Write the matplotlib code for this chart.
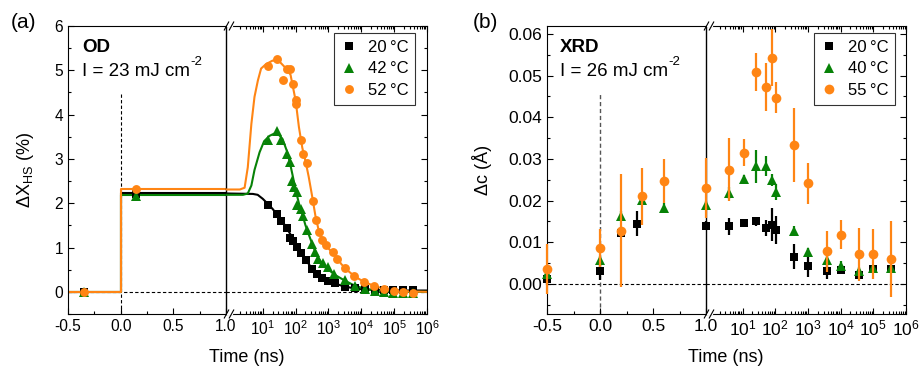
import matplotlib
matplotlib.use("Agg")
import numpy as np
import matplotlib.pyplot as plt
from matplotlib.lines import Line2D
from matplotlib.ticker import (MultipleLocator, FixedLocator, NullFormatter,
                               FormatStrFormatter, LogFormatterSciNotation)

plt.rcParams["font.family"] = ["Liberation Sans", "DejaVu Sans"]
plt.rcParams["mathtext.fontset"] = "custom"
plt.rcParams["mathtext.rm"] = "Liberation Sans"
plt.rcParams["mathtext.it"] = "Liberation Sans:italic"
plt.rcParams["mathtext.bf"] = "Liberation Sans:bold"
plt.rcParams["axes.unicode_minus"] = False

BLACK, GREEN, ORANGE = "black", "#078207", "#ff8514"

# ---------------- (a) optical density ----------------
od_labels = ["20\u2009\u00b0C", "42\u2009\u00b0C", "52\u2009\u00b0C"]

# early-time points (linear axis, ns)
od_t_lin = [-0.35, 0.15]
od_20_lin = [0.0, 2.20]
od_42_lin = [0.0, 2.17]
od_52_lin = [0.0, 2.32]

# late-time points (log axis, ns)
od_20_t = [14.9, 27, 37, 53, 66, 84, 112, 145, 205, 305, 434, 616, 980, 1550,
           3180, 6300, 1.3e4, 2.6e4, 4.9e4, 9.3e4, 1.9e5, 3.8e5]
od_20_v = [1.97, 1.76, 1.61, 1.45, 1.21, 1.15, 1.02, 0.87, 0.72, 0.51, 0.40,
           0.32, 0.25, 0.20, 0.12, 0.08, 0.06, 0.05, 0.04, 0.04, 0.04, 0.04]

od_42_t = [14.9, 28, 37, 53, 66, 75, 88, 107, 112, 146, 170, 224, 305, 385,
           486, 690, 980, 1450, 3180, 6300, 1.3e4, 2.6e4, 4.9e4, 9.3e4, 1.9e5, 3.8e5]
od_42_v = [3.42, 3.64, 3.42, 3.11, 2.93, 2.51, 2.36, 2.25, 1.95, 1.87, 1.72,
           1.40, 1.09, 0.89, 0.74, 0.64, 0.55, 0.40, 0.26, 0.14, 0.06, 0.01,
           -0.01, -0.03, -0.03, -0.03]

od_52_t = [14.6, 28, 40, 53, 69, 84, 100, 106, 145, 170, 224, 329, 417, 500,
           616, 830, 1330, 1770, 3180, 5930, 1.2e4, 2.4e4, 4.9e4, 9.8e4, 1.9e5, 3.8e5]
od_52_v = [5.10, 5.25, 4.78, 5.02, 5.03, 4.68, 4.23, 4.34, 3.43, 3.11, 2.91,
           2.06, 1.63, 1.36, 1.18, 1.06, 0.90, 0.74, 0.53, 0.36, 0.23, 0.14,
           0.06, 0.01, -0.01, -0.03]

# fitted model curves
fit_t_lin = [-0.5, 0.0, 0.0, 1.0]
fit_20_lin = [0.0, 0.0, 2.22, 2.22]
fit_42_lin = [0.0, 0.0, 2.19, 2.19]
fit_52_lin = [0.0, 0.0, 2.31, 2.31]

fit_20_t = [0.76, 5, 7, 10, 15, 20, 32, 50, 80, 126, 200, 320, 500, 800, 1260,
            2500, 5000, 1e4, 3e4, 1e5, 1e6]
fit_20_v = [2.22, 2.21, 2.19, 2.10, 1.97, 1.87, 1.68, 1.48, 1.22, 0.97, 0.73,
            0.52, 0.37, 0.28, 0.21, 0.14, 0.09, 0.06, 0.04, 0.03, 0.03]

fit_42_t = [0.76, 2.5, 3.5, 4.5, 5.6, 8, 11, 16, 22, 28, 40, 56, 70, 80, 100,
            126, 160, 200, 250, 320, 400, 500, 700, 1000, 1600, 3200, 6300,
            1.26e4, 2.5e4, 6e4, 3e5, 1e6]
fit_42_v = [2.19, 2.19, 2.22, 2.40, 2.75, 3.15, 3.40, 3.52, 3.57, 3.58, 3.45,
            3.15, 2.85, 2.65, 2.30, 2.00, 1.75, 1.50, 1.30, 1.08, 0.90, 0.75,
            0.60, 0.50, 0.38, 0.25, 0.14, 0.07, 0.03, 0.01, 0.0, 0.0]

fit_52_t = [0.76, 2.0, 2.8, 3.5, 4.5, 5.6, 7.1, 8.9, 12.6, 20, 32, 50, 70, 100,
            126, 160, 200, 250, 320, 400, 500, 630, 800, 1000, 1600, 2500, 4000,
            6300, 1e4, 1.6e4, 2.5e4, 5e4, 1e5, 3e5, 1e6]
fit_52_v = [2.31, 2.31, 2.35, 2.81, 3.79, 4.40, 4.77, 5.04, 5.14, 5.22, 5.20,
            5.05, 4.90, 4.32, 3.72, 3.25, 2.95, 2.60, 2.15, 1.72, 1.40, 1.20,
            1.07, 0.98, 0.82, 0.62, 0.47, 0.35, 0.26, 0.19, 0.13, 0.07, 0.03,
            0.01, 0.0]

# ---------------- (b) X-ray diffraction ----------------
xrd_labels = ["20\u2009\u00b0C", "40\u2009\u00b0C", "55\u2009\u00b0C"]

xrd_20_t_lin = [-0.5, 0.0, 0.2, 0.35, 1.0]
xrd_20_v_lin = [0.0013, 0.0030, 0.0122, 0.0145, 0.0140]
xrd_20_e_lin = [0.0015, 0.0021, 0.0010, 0.0030, 0.0010]

xrd_40_t_lin = [-0.5, 0.0, 0.2, 0.4, 0.6, 1.0]
xrd_40_v_lin = [0.0025, 0.0058, 0.0164, 0.0202, 0.0183, 0.0190]
xrd_40_e_lin = [0.0010, 0.0010, 0.0010, 0.0010, 0.0012, 0.0010]

xrd_55_t_lin = [-0.5, 0.0, 0.2, 0.4, 0.6, 1.0]
xrd_55_v_lin = [0.0037, 0.0086, 0.0128, 0.0210, 0.0247, 0.0230]
xrd_55_e_lin = [0.0060, 0.0046, 0.0135, 0.0068, 0.0053, 0.0072]

xrd_t_log = [3.8, 10.7, 26, 53, 81, 108, 372, 1000, 3700, 1e4, 3.6e4, 1e5, 3.5e5]

xrd_20_v = [0.0138, 0.0147, 0.0150, 0.0134, 0.0142, 0.0130, 0.0065, 0.0044,
            0.0032, 0.0034, 0.0022, 0.0037, 0.0037]
xrd_20_e = [0.0020, 0.0010, 0.0010, 0.0020, 0.0040, 0.0033, 0.0030, 0.0028,
            0.0020, 0.0008, 0.0010, 0.0008, 0.0008]

xrd_40_v = [0.0218, 0.0251, 0.0282, 0.0282, 0.0250, 0.0221, 0.0128, 0.0076,
            0.0058, 0.0044, 0.0032, 0.0038, 0.0038]
xrd_40_e = [0.0015, 0.0010, 0.0040, 0.0024, 0.0015, 0.0020, 0.0010, 0.0010,
            0.0010, 0.0010, 0.0008, 0.0008, 0.0008]

xrd_55_v = [0.0274, 0.0315, 0.0509, 0.0473, 0.0543, 0.0447, 0.0333, 0.0242,
            0.0078, 0.0118, 0.0071, 0.0072, 0.0059]
xrd_55_e = [0.0076, 0.0033, 0.0045, 0.0057, 0.0068, 0.0037, 0.0089, 0.0049,
            0.0049, 0.0035, 0.0064, 0.0059, 0.0091]

W, H = 919, 367
fig = plt.figure(figsize=(W / 100, H / 100), dpi=100)


def px_box(x0, x1, y0, y1):
    return [x0 / W, 1 - y1 / H, (x1 - x0) / W, (y1 - y0) / H]


def broken_axes(x0, xb, x1, y0, y1, ylim, ymaj, ymin, yfmt, lsize):
    ax_lin = fig.add_axes(px_box(x0, xb, y0, y1))
    ax_log = fig.add_axes(px_box(xb, x1, y0, y1))
    ax_log.patch.set_visible(False)
    ax_lin.set_xlim(-0.5, 1.0)
    ax_log.set_xscale("log")
    ax_log.set_xlim(0.76, 1e6)
    for ax in (ax_lin, ax_log):
        ax.set_ylim(*ylim)
        ax.yaxis.set_major_locator(MultipleLocator(ymaj))
        ax.yaxis.set_minor_locator(MultipleLocator(ymin))
        for sp in ax.spines.values():
            sp.set_linewidth(0.8)
        ax.tick_params(which="both", direction="in", labelsize=lsize, width=0.8)
        ax.tick_params(which="major", length=4)
        ax.tick_params(which="minor", length=2.3)
    ax_lin.spines["right"].set_linewidth(1.0)
    ax_lin.xaxis.set_major_locator(MultipleLocator(0.5))
    ax_lin.xaxis.set_minor_locator(MultipleLocator(0.25))
    ax_lin.xaxis.set_major_formatter(FormatStrFormatter("%.1f"))
    ax_lin.yaxis.set_major_formatter(FormatStrFormatter(yfmt))
    ax_lin.tick_params(which="both", top=False, right=False)

    ax_log.spines["left"].set_visible(False)
    ax_log.xaxis.set_major_locator(FixedLocator([1e1, 1e2, 1e3, 1e4, 1e5, 1e6]))
    ax_log.xaxis.set_minor_locator(FixedLocator(
        [m * 10.0 ** e for e in range(0, 6) for m in range(2, 10)]))
    ax_log.xaxis.set_major_formatter(LogFormatterSciNotation())
    ax_log.xaxis.set_minor_formatter(NullFormatter())
    ax_log.tick_params(which="both", top=True, right=True, left=False,
                       labelleft=False)

    # break marks on the top and bottom spines
    for y in (y0, y1):
        fig.add_artist(Line2D([(xb + 1.5) / W, (xb + 5.5) / W], [1 - y / H] * 2,
                              color="white", lw=1.6, zorder=10))
        for xm in (xb + 0.5, xb + 5.5):
            fig.add_artist(Line2D([(xm - 2.2) / W, (xm + 2.2) / W],
                                  [1 - (y + 4) / H, 1 - (y - 4) / H],
                                  color="black", lw=0.8, zorder=11))
    return ax_lin, ax_log


def add_intensity(ax, x, y, value):
    t = fig.text(x / W, 1 - y / H, f"I = {value} mJ cm", fontsize=13.5,
                 ha="left", va="center")
    ax.annotate("-2", xy=(1.0, 0.75), xycoords=t, xytext=(0.5, 0),
                textcoords="offset points", fontsize=9.5, ha="left",
                va="bottom", annotation_clip=False)


dash = (0, (3, 2))

# ================= panel (a) =================
a_lin, a_log = broken_axes(68, 226, 427, 26, 314, (-0.5, 6.0), 1, 0.5, "%d",
                           11.2)

for ax in (a_lin, a_log):
    ax.axhline(0, color="black", lw=0.8, ls=dash, zorder=1)
a_lin.vlines(0, -0.5, 4.5, color="black", lw=0.8, ls=dash, zorder=1)

for (tl, yl, tg, yg, c) in [
        (fit_t_lin, fit_20_lin, fit_20_t, fit_20_v, BLACK),
        (fit_t_lin, fit_42_lin, fit_42_t, fit_42_v, GREEN),
        (fit_t_lin, fit_52_lin, fit_52_t, fit_52_v, ORANGE)]:
    a_lin.plot(tl, yl, color=c, lw=1.5, zorder=2)
    a_log.plot(tg, yg, color=c, lw=1.5, zorder=2)

mk_a = [("s", 5.4, BLACK, od_20_lin, od_20_t, od_20_v),
        ("^", 6.6, GREEN, od_42_lin, od_42_t, od_42_v),
        ("o", 6.4, ORANGE, od_52_lin, od_52_t, od_52_v)]
for m, ms, c, vl, tg, vg in mk_a:
    a_lin.plot(od_t_lin, vl, ls="none", marker=m, ms=ms, color=c, mew=0, zorder=3)
    a_log.plot(tg, vg, ls="none", marker=m, ms=ms, color=c, mew=0, zorder=3)

handles_a = [Line2D([], [], ls="none", marker=m, ms=ms, color=c, mew=0)
             for m, ms, c, *_ in mk_a]
leg = a_log.legend(handles_a, od_labels, loc="upper right",
                   bbox_to_anchor=((415 - 226) / (427 - 226), 1 - 7 / 288),
                   borderaxespad=0, frameon=True, fancybox=False, fontsize=12,
                   handlelength=1.0, handletextpad=0.6, labelspacing=0.4,
                   borderpad=0.4)
leg.get_frame().set_edgecolor("black")
leg.get_frame().set_linewidth(0.8)

fig.text(82 / W, 1 - 47 / H, "OD", fontsize=13.5, fontweight="bold",
         ha="left", va="center")
add_intensity(a_lin, 82, 72, 23)
fig.text(24 / W, 1 - 22 / H, "(a)", fontsize=15, ha="center", va="center")
fig.text(25 / W, 1 - 170 / H, "\u0394X$_{\\mathrm{HS}}$ (%)", fontsize=13,
         rotation=90, ha="center", va="center")
fig.text(247 / W, 1 - 358 / H, "Time (ns)", fontsize=13, ha="center",
         va="center")

# ================= panel (b) =================
b_lin, b_log = broken_axes(547, 706, 906, 26, 314, (-0.0072, 0.0619), 0.01,
                           0.005, "%.2f", 12.5)

for ax in (b_lin, b_log):
    ax.axhline(0, color="black", lw=0.8, ls=dash, zorder=1)
b_lin.vlines(0, -0.0072, 0.046, color="#555555", lw=1.0, ls=dash, zorder=1)

mk_b = [("s", 6.2, BLACK, xrd_20_t_lin, xrd_20_v_lin, xrd_20_e_lin,
         xrd_20_v, xrd_20_e),
        ("^", 7.2, GREEN, xrd_40_t_lin, xrd_40_v_lin, xrd_40_e_lin,
         xrd_40_v, xrd_40_e),
        ("o", 7.0, ORANGE, xrd_55_t_lin, xrd_55_v_lin, xrd_55_e_lin,
         xrd_55_v, xrd_55_e)]
for z, (m, ms, c, tl, vl, el, vg, eg) in enumerate(mk_b):
    b_lin.errorbar(tl, vl, yerr=el, fmt=m, ms=ms, color=c, mew=0,
                   elinewidth=1.6, capsize=0, zorder=3 + z, clip_on=False)
    b_log.errorbar(xrd_t_log, vg, yerr=eg, fmt=m, ms=ms, color=c, mew=0,
                   elinewidth=1.6, capsize=0, zorder=3 + z)

handles_b = [Line2D([], [], ls="none", marker=m, ms=ms, color=c, mew=0)
             for m, ms, c, *_ in mk_b]
leg = b_log.legend(handles_b, xrd_labels, loc="upper right",
                   bbox_to_anchor=((895 - 706) / (906 - 706), 1 - 7 / 288),
                   borderaxespad=0, frameon=True, fancybox=False, fontsize=12,
                   handlelength=1.0, handletextpad=0.6, labelspacing=0.4,
                   borderpad=0.4)
leg.get_frame().set_edgecolor("black")
leg.get_frame().set_linewidth(0.8)

fig.text(560 / W, 1 - 47 / H, "XRD", fontsize=13.5, fontweight="bold",
         ha="left", va="center")
add_intensity(b_lin, 560, 72, 26)
fig.text(485 / W, 1 - 22 / H, "(b)", fontsize=15, ha="center", va="center")
fig.text(482 / W, 1 - 170 / H, "\u0394c (\u00c5)", fontsize=13,
         rotation=90, ha="center", va="center")
fig.text(726 / W, 1 - 358 / H, "Time (ns)", fontsize=13, ha="center",
         va="center")

fig.savefig("out.png", dpi=100)
